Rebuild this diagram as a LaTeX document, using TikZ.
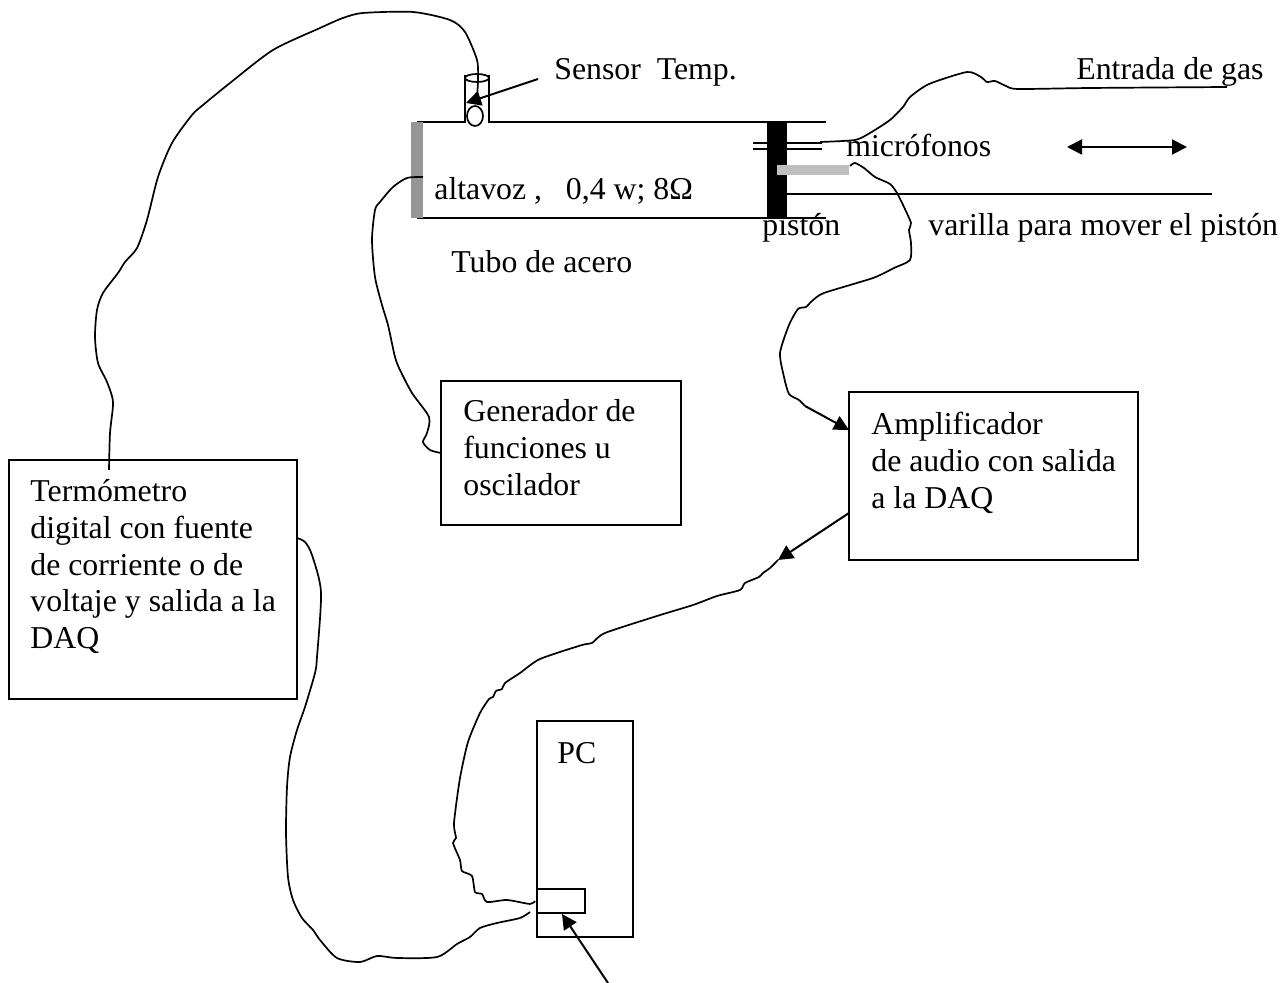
\documentclass[tikz,border=0pt]{standalone}
\usepackage{fontspec}
\setmainfont{Liberation Serif}
\usetikzlibrary{arrows.meta}

\begin{document}
\begin{tikzpicture}[
    x=0.5pt, y=-0.5pt,
    font=\fontsize{15.9}{18.4}\selectfont,
    wire/.style={line width=0.85pt, line join=round},
    op/.style={-{Triangle[length=7.5pt, width=7.5pt]}, line width=1pt},
    line/.style={line width=1pt},
    box/.style={draw, line width=1.05pt, inner sep=0pt, outer sep=0pt, anchor=north west},
    solid block/.style={inner sep=0pt, outer sep=0pt, anchor=north west},
    txt/.style={inner sep=0pt, anchor=base west},
    para/.style={inner sep=0pt, anchor=north west, align=left},
  ]
  \useasboundingbox (0,0) rectangle (1286,983);

  % ---------- steel tube and its stub ----------
  \draw[line] (417,122) -- (465,122) -- (465,75);
  \draw[line] (489,75) -- (489,122) -- (826,122);
  \draw[line] (417,218) -- (826,218);
  \draw[wire] (477,78) ellipse (12 and 4);
  \draw[wire] (475,116) ellipse (8 and 10);

  % ---------- speaker, piston, microphones ----------
  \node[solid block, fill=black!41, minimum width=6pt, minimum height=48pt] (altavoz) at (411,122) {};
  \draw[line] (753,143) -- (822,143);
  \draw[line] (753,149.5) -- (822,149.5);
  \node[solid block, fill=black, minimum width=10pt, minimum height=48pt] (piston) at (767,122) {};
  \node[solid block, fill=black!25, minimum width=36pt, minimum height=5pt] (micro) at (777,165) {};
  \draw[line] (piston.east |- 0,194) -- (1212,194);

  % ---------- boxes ----------
  \node[box, minimum width=144pt, minimum height=119.5pt] (term) at (9,460) {};
  \node[box, minimum width=120pt, minimum height=72pt] (gen) at (441,381) {};
  \node[box, minimum width=144.5pt, minimum height=84pt] (amp) at (849,392) {};
  \node[box, minimum width=48pt, minimum height=108pt] (pc) at (537,721) {};
  \node[box, minimum width=24pt, minimum height=12pt] (daq) at (537,889) {};

  % ---------- labels ----------
  \node[txt] (lsensor) at (554,80) {Sensor\ \ Temp.};
  \node[txt] (lgas) at (1076,80) {Entrada de gas};
  \node[txt] (lmic) at (846,157) {micrófonos};
  \node[txt] (lalta) at (434,200) {altavoz ,\ \ \ 0,4 w; 8Ω};
  \node[txt] (lpiston) at (762,236) {pistón};
  \node[txt] (lvar) at (928,236) {varilla para mover el pistón};
  \node[txt] (ltubo) at (451,273) {Tubo de acero};
  \node[txt] (lpc) at (557,764) {PC};
  \node[para] (lgen) at (463,399) {Generador de\\funciones u\\oscilador};
  \node[para] (lamp) at (871,412) {Amplificador\\de audio con salida\\a la DAQ};
  \node[para] (lterm) at (30,479) {Termómetro\\digital con fuente\\de corriente o de\\voltaje y salida a la\\DAQ};

  % ---------- wire ends ----------
  \coordinate (termtop) at (109,470);
  \coordinate (sensorin) at (477,97);
  \coordinate (sensorsrc) at (538,79);
  \coordinate (sensortip) at (466,103);
  \coordinate (altaout) at (423,177);
  \coordinate (genin) at (441,453);
  \coordinate (micin) at (820,142);
  \coordinate (gasend) at (1227,87);
  \coordinate (micout) at (850,166);
  \coordinate (ampbend) at (805,406);
  \coordinate (ampin) at (849,430);
  \coordinate (ampout) at (849,513);
  \coordinate (amptip) at (778,560);
  \coordinate (daqin) at (535,901);
  \coordinate (termout) at (297,538);
  \coordinate (daqin2) at (530,912);
  \coordinate (daqsrc) at (608,983);
  \coordinate (daqtip) at (562,914);
  \coordinate (arrowl) at (1067,147);
  \coordinate (arrowr) at (1187,147);

  % ---------- thermometer to sensor ----------
  \draw[wire] plot[smooth, tension=0.45] coordinates {(termtop) (110,433) (113,402) (107,382) (98,363) (95,337) (97,310)
    (103,293) (118,273) (125,262) (137,248) (147,220) (158,177) (172,143) (192,115) (203,105) (230,83)
    (273,50) (320,28) (343,18) (363,13) (413,12) (450,20) (465,32) (477,60) (478,80) (sensorin)};
  \draw[op] (sensorsrc) -- (sensortip);

  % ---------- oscillator to speaker ----------
  \draw[wire] plot[smooth, tension=0.45] coordinates {(altaout) (407,178) (393,187) (380,202) (375,210) (372,240) (375,277)
    (382,305) (388,325) (395,357) (400,370) (412,393) (429,417) (427,433) (423,442) (430,450) (genin)};

  % ---------- gas inlet ----------
  \draw[wire] plot[smooth, tension=0.4] coordinates {(micin) (855,140) (870,133) (890,120) (903,107) (910,97) (929,84)
    (967,72) (981,77) (987,82) (995,81) (1006,86) (1018,89) (1090,88) (gasend)};

  % ---------- microphone to amplifier ----------
  \draw[wire] plot[smooth, tension=0.4] coordinates {(micout) (855,163) (864,168) (875,177) (890,184) (897,193) (904,207)
    (911,223) (909,230) (911,243) (910,260) (894,268) (873,278) (824,293) (812,301) (806,307) (798,309)
    (789,325) (780,353) (784,377) (789,394) (799,400) (ampbend)};
  \draw[op] (ampbend) -- (ampin);

  % ---------- amplifier to PC ----------
  \draw[op] (ampout) -- (amptip);
  \draw[wire] plot[smooth, tension=0.4] coordinates {(amptip) (770,568) (763,573) (759,577) (745,583) (740,590) (717,596)
    (693,605) (657,616) (605,633) (592,643) (582,645) (540,659) (520,673) (505,683) (502,689) (496,691)
    (493,697) (489,699) (480,713) (468,742) (460,778) (454,823) (456,838) (453,843) (460,860) (462,871)
    (472,876) (475,892) (482,894) (487,902) (507,900) (530,904) (daqin)};

  % ---------- thermometer to PC ----------
  \draw[wire] plot[smooth, tension=0.45] coordinates {(termout) (305,542) (312,555) (321,592) (317,657) (315,673) (305,707)
    (297,730) (290,757) (287,787) (286,833) (288,877) (293,900) (302,918) (313,930) (320,940) (337,958)
    (360,962) (377,956) (397,958) (437,957) (457,944) (470,937) (480,928) (497,923) (520,918) (daqin2)};

  % ---------- card pointer and piston motion ----------
  \draw[op] (daqsrc) -- (daqtip);
  \draw[{Triangle[length=7.5pt, width=7.5pt]}-{Triangle[length=7.5pt, width=7.5pt]}, line width=1pt] (arrowl) -- (arrowr);

\end{tikzpicture}
\end{document}
